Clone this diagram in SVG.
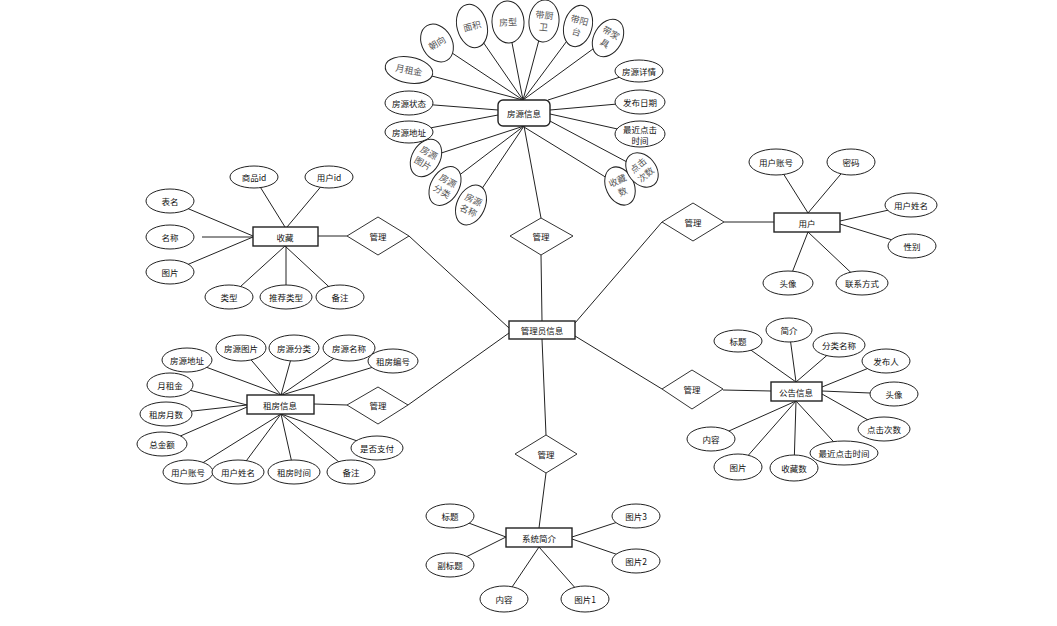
<svg xmlns="http://www.w3.org/2000/svg" width="1057" height="626" viewBox="0 0 1057 626">
<style>
.bg{fill:#fff}
.ln{stroke:#222;stroke-width:1;fill:none}
.e{fill:#fff;stroke:#222;stroke-width:1}
.box{fill:#fff;stroke:#222;stroke-width:1.4}
.dm{fill:#fff;stroke:#333;stroke-width:1}
text{font-family:"Noto Sans CJK SC","Liberation Sans",sans-serif;font-size:8.5px;fill:#111;text-anchor:middle;dominant-baseline:central}
.g{fill:#555;font-size:9px}
</style>
<rect class="bg" x="0" y="0" width="1057" height="626"/>
<g id="connectors">
<path class="ln" d="M318,236L347,236M409,236L509,328M524,126L541,218M541,255L542,321M575,323L662,222M724,222L774,222M314,404L347,405M408,405L509,333M575,336L662,389M723,390L771,391M542,339L546,435M546,473L539,528"/>
<path class="ln" d="M437,43L523,100M472,26L523,100M508,22L523,100M544,21L523,100M578,26L523,100M608,38L523,100M409,70L523,100M639,71L548,100M409,103L498,110M640,102L550,110M409,132L498,115M640,134L550,114M426,158L524,126M445,186L524,126M471,205L524,126M620,186L524,127M642,170L548,120"/>
<path class="ln" d="M254,177L285,227M329,177L287,227M170,201L253,236M202,237L253,237M170,272L253,237M229,297L285,246M286,297L286,246M340,297L285,246"/>
<path class="ln" d="M776,162L808,213M851,162L808,213M911,205L840,221M912,246L840,224M788,283L808,232M862,283L808,232"/>
<path class="ln" d="M187,360L281,395M241,348L281,395M294,348L281,395M349,348L281,395M393,361L282,395M170,385L247,405M166,414L247,405M162,444L247,407M188,472L281,414M238,472L281,414M294,472L281,414M351,472L281,414M377,448L281,414"/>
<path class="ln" d="M738,341L796,382M789,330L796,382M839,345L796,382M886,361L822,387M894,394L822,391M884,429L822,394M711,439L796,401M738,467L796,401M794,468L796,401M844,453L796,401"/>
<path class="ln" d="M450,516L506,537M450,565L506,537M504,599L539,547M585,599L539,547M636,516L572,537M636,561L572,539"/>
</g>
<g id="house">
<rect class="box" x="498" y="100" width="52" height="26" rx="5"/>
<text x="524" y="113">房源信息</text>
</g>
<g id="house-attrs">
<g transform="translate(437,43) rotate(-30)"><ellipse class="e" rx="15" ry="20"/><text class="g">朝向</text></g>
<g transform="translate(472,26) rotate(-15)"><ellipse class="e" rx="15" ry="22"/><text class="g">面积</text></g>
<g transform="translate(508,22) rotate(-3)"><ellipse class="e" rx="16" ry="21"/><text class="g">房型</text></g>
<g transform="translate(544,21) rotate(5)"><ellipse class="e" rx="15" ry="21"/><text class="g" y="-6">带厨</text><text class="g" y="6">卫</text></g>
<g transform="translate(578,26) rotate(15)"><ellipse class="e" rx="14" ry="21"/><text class="g" y="-6">带阳</text><text class="g" y="6">台</text></g>
<g transform="translate(608,38) rotate(30)"><ellipse class="e" rx="14" ry="20"/><text class="g" y="-6">带家</text><text class="g" y="6">具</text></g>
<g transform="translate(409,70) rotate(10)"><ellipse class="e" rx="24" ry="13"/><text class="g">月租金</text></g>
<g transform="translate(639,71)"><ellipse class="e" rx="24" ry="11"/><text>房源详情</text></g>
<g transform="translate(409,103)"><ellipse class="e" rx="24" ry="12"/><text>房源状态</text></g>
<g transform="translate(640,102)"><ellipse class="e" rx="25" ry="12"/><text>发布日期</text></g>
<g transform="translate(409,132)"><ellipse class="e" rx="24" ry="11"/><text>房源地址</text></g>
<g transform="translate(640,134)"><ellipse class="e" rx="25" ry="13"/><text y="-5">最近点击</text><text y="6">时间</text></g>
<g transform="translate(426,158) rotate(30)"><ellipse class="e" rx="14" ry="20"/><text class="g" y="-6">房源</text><text class="g" y="6">图片</text></g>
<g transform="translate(445,186) rotate(30)"><ellipse class="e" rx="14" ry="21"/><text class="g" y="-6">房源</text><text class="g" y="6">分类</text></g>
<g transform="translate(471,205) rotate(25)"><ellipse class="e" rx="14" ry="21"/><text class="g" y="-6">房源</text><text class="g" y="6">名称</text></g>
<g transform="translate(620,186) rotate(-25)"><ellipse class="e" rx="14" ry="20"/><text class="g" y="-6">收藏</text><text class="g" y="6">数</text></g>
<g transform="translate(642,170) rotate(-40)"><ellipse class="e" rx="14" ry="19"/><text class="g" y="-6">点击</text><text class="g" y="6">次数</text></g>
</g>
<g id="admin">
<rect class="box" x="509" y="321" width="66" height="18"/>
<text x="542" y="330">管理员信息</text>
</g>
<g id="rel-house"><polygon class="dm" points="541,218 573,236 541,255 510,236"/><text x="541" y="236">管理</text></g>
<g id="rel-fav"><polygon class="dm" points="378,217 409,236 378,255 347,236"/><text x="378" y="236">管理</text></g>
<g id="rel-user"><polygon class="dm" points="693,203 724,222 693,241 662,222"/><text x="693" y="222">管理</text></g>
<g id="rel-rent"><polygon class="dm" points="378,387 408,405 378,424 347,405"/><text x="378" y="405">管理</text></g>
<g id="rel-notice"><polygon class="dm" points="692,370 723,389 692,409 662,389"/><text x="692" y="389">管理</text></g>
<g id="rel-sys"><polygon class="dm" points="546,435 577,454 546,473 515,454"/><text x="546" y="454">管理</text></g>
<g id="fav">
<rect class="box" x="253" y="227" width="65" height="19"/>
<text x="285" y="236.5">收藏</text>
</g>
<g id="fav-attrs">
<g transform="translate(254,177)"><ellipse class="e" rx="24" ry="11"/><text>商品id</text></g>
<g transform="translate(329,177)"><ellipse class="e" rx="24" ry="11"/><text>用户id</text></g>
<g transform="translate(170,201)"><ellipse class="e" rx="24" ry="12"/><text>表名</text></g>
<g transform="translate(170,237)"><ellipse class="e" rx="24" ry="12"/><text>名称</text></g>
<g transform="translate(170,272)"><ellipse class="e" rx="24" ry="12"/><text>图片</text></g>
<g transform="translate(229,297)"><ellipse class="e" rx="24" ry="12"/><text>类型</text></g>
<g transform="translate(286,297)"><ellipse class="e" rx="26" ry="12"/><text>推荐类型</text></g>
<g transform="translate(340,297)"><ellipse class="e" rx="24" ry="12"/><text>备注</text></g>
</g>
<g id="user">
<rect class="box" x="774" y="213" width="66" height="19"/>
<text x="807" y="222.5">用户</text>
</g>
<g id="user-attrs">
<g transform="translate(776,162)"><ellipse class="e" rx="27" ry="13"/><text>用户账号</text></g>
<g transform="translate(851,162)"><ellipse class="e" rx="24" ry="13"/><text>密码</text></g>
<g transform="translate(911,205)"><ellipse class="e" rx="26" ry="12"/><text>用户姓名</text></g>
<g transform="translate(912,246)"><ellipse class="e" rx="24" ry="12"/><text>性别</text></g>
<g transform="translate(788,283)"><ellipse class="e" rx="25" ry="12"/><text>头像</text></g>
<g transform="translate(862,283)"><ellipse class="e" rx="26" ry="12"/><text>联系方式</text></g>
</g>
<g id="rent">
<rect class="box" x="247" y="395" width="67" height="19"/>
<text x="280" y="404.5">租房信息</text>
</g>
<g id="rent-attrs">
<g transform="translate(187,360)"><ellipse class="e" rx="25" ry="12"/><text>房源地址</text></g>
<g transform="translate(241,348)"><ellipse class="e" rx="25" ry="13"/><text>房源图片</text></g>
<g transform="translate(294,348)"><ellipse class="e" rx="25" ry="13"/><text>房源分类</text></g>
<g transform="translate(349,348)"><ellipse class="e" rx="26" ry="13"/><text>房源名称</text></g>
<g transform="translate(393,361)"><ellipse class="e" rx="25" ry="12"/><text>租房编号</text></g>
<g transform="translate(170,385)"><ellipse class="e" rx="23" ry="12"/><text>月租金</text></g>
<g transform="translate(166,414)"><ellipse class="e" rx="26" ry="12"/><text>租房月数</text></g>
<g transform="translate(162,444)"><ellipse class="e" rx="25" ry="12"/><text>总金额</text></g>
<g transform="translate(377,448)"><ellipse class="e" rx="26" ry="12"/><text>是否支付</text></g>
<g transform="translate(188,472)"><ellipse class="e" rx="25" ry="12"/><text>用户账号</text></g>
<g transform="translate(238,472)"><ellipse class="e" rx="26" ry="12"/><text>用户姓名</text></g>
<g transform="translate(294,472)"><ellipse class="e" rx="26" ry="12"/><text>租房时间</text></g>
<g transform="translate(351,472)"><ellipse class="e" rx="24" ry="12"/><text>备注</text></g>
</g>
<g id="notice">
<rect class="box" x="771" y="382" width="51" height="19"/>
<text x="796" y="391.5">公告信息</text>
</g>
<g id="notice-attrs">
<g transform="translate(738,341)"><ellipse class="e" rx="24" ry="11"/><text>标题</text></g>
<g transform="translate(789,330)"><ellipse class="e" rx="23" ry="12"/><text>简介</text></g>
<g transform="translate(839,345)"><ellipse class="e" rx="26" ry="12"/><text>分类名称</text></g>
<g transform="translate(886,361)"><ellipse class="e" rx="24" ry="12"/><text>发布人</text></g>
<g transform="translate(894,394)"><ellipse class="e" rx="24" ry="12"/><text>头像</text></g>
<g transform="translate(884,429)"><ellipse class="e" rx="26" ry="12"/><text>点击次数</text></g>
<g transform="translate(844,453)"><ellipse class="e" rx="34" ry="12"/><text>最近点击时间</text></g>
<g transform="translate(711,439)"><ellipse class="e" rx="24" ry="12"/><text>内容</text></g>
<g transform="translate(738,467)"><ellipse class="e" rx="24" ry="13"/><text>图片</text></g>
<g transform="translate(794,468)"><ellipse class="e" rx="24" ry="13"/><text>收藏数</text></g>
</g>
<g id="sys">
<rect class="box" x="506" y="528" width="66" height="19"/>
<text x="539" y="537.5">系统简介</text>
</g>
<g id="sys-attrs">
<g transform="translate(450,516)"><ellipse class="e" rx="24" ry="12"/><text>标题</text></g>
<g transform="translate(450,565)"><ellipse class="e" rx="24" ry="12"/><text>副标题</text></g>
<g transform="translate(504,599)"><ellipse class="e" rx="24" ry="13"/><text>内容</text></g>
<g transform="translate(585,599)"><ellipse class="e" rx="24" ry="13"/><text>图片1</text></g>
<g transform="translate(636,516)"><ellipse class="e" rx="24" ry="12"/><text>图片3</text></g>
<g transform="translate(636,561)"><ellipse class="e" rx="24" ry="12"/><text>图片2</text></g>
</g>
</svg>
